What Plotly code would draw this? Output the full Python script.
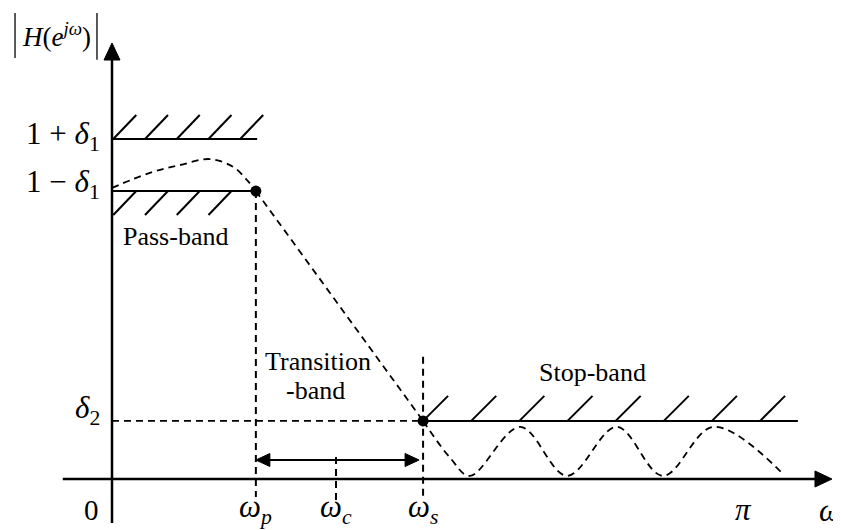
import plotly.graph_objects as go

# ---------------- data (omega normalised by pi, magnitude) ----------------
omega_p = 0.228
omega_c = 0.355
omega_s = 0.493
omega_pi = 1.0
delta1 = 0.083
delta2 = 0.185

pass_omega = [0.0, 0.060, 0.108, 0.155, 0.192, 0.214, 0.228]
pass_mag = [0.927, 0.975, 1.000, 1.019, 0.994, 0.952, 0.917]

trans_omega = [omega_p, omega_s]
trans_mag = [1 - delta1, delta2]

stop_omega = [0.493, 0.536, 0.567, 0.647, 0.721, 0.800, 0.873, 0.953, 1.062]
stop_mag = [0.185, 0.067, 0.010, 0.166, 0.010, 0.166, 0.010, 0.166, 0.019]

stop_spec_end = 1.087

tick_positions = [omega_p, omega_c, omega_s, omega_pi]
tick_labels = ["<i>ω</i><sub><i>p</i></sub>", "<i>ω</i><sub><i>c</i></sub>",
               "<i>ω</i><sub><i>s</i></sub>", "<i>π</i>"]
level_labels = ["1 + <i>δ</i><sub>1</sub>", "1 − <i>δ</i><sub>1</sub>", "<i>δ</i><sub>2</sub>"]

band_labels = ["Pass-band", "Transition", "-band", "Stop-band"]

# ---------------- layout constants ----------------
# page body has an 8px margin, so the figure is 8px smaller than the window
X_RANGE = [-0.16482, 1.15531]
Y_RANGE = [-0.16242, 1.5]
PX = 1 / 631.0   # one pixel along x in data units
PY = 1 / 314.0   # one pixel along y in data units
FONT = "Liberation Serif"
BLACK = "#000000"

fig = go.Figure()


def seg_trace(xs, ys, width=2.0, dash=None, fill=None):
    fig.add_trace(go.Scatter(x=xs, y=ys, mode="lines", fill=fill, fillcolor=BLACK,
                             line=dict(color=BLACK, width=width, dash=dash),
                             hoverinfo="skip", showlegend=False))


def arrow_head(tip_x, tip_y, direction, length, half):
    # filled triangle; direction: 'right', 'left', 'up'
    if direction == "right":
        xs = [tip_x, tip_x - length * PX, tip_x - length * PX, tip_x]
        ys = [tip_y, tip_y + half * PY, tip_y - half * PY, tip_y]
    elif direction == "left":
        xs = [tip_x, tip_x + length * PX, tip_x + length * PX, tip_x]
        ys = [tip_y, tip_y + half * PY, tip_y - half * PY, tip_y]
    else:
        xs = [tip_x, tip_x - half * PX, tip_x + half * PX, tip_x]
        ys = [tip_y, tip_y - length * PY, tip_y - length * PY, tip_y]
    seg_trace(xs, ys, width=1, fill="toself")


# axes
x_axis_start, x_axis_tip = -0.078, 1.141
y_axis_start, y_axis_tip = -0.140, 1.3885
seg_trace([x_axis_start, x_axis_tip - 10 * PX], [0, 0], width=2.5)
arrow_head(x_axis_tip, 0, "right", 17, 8)
seg_trace([0, 0], [y_axis_start, y_axis_tip - 10 * PY], width=2.5)
arrow_head(0, y_axis_tip, "up", 17, 8)

# spec lines
seg_trace([0, omega_p + 0.002], [1 + delta1, 1 + delta1])
seg_trace([0, omega_p], [1 - delta1, 1 - delta1])
seg_trace([omega_s, stop_spec_end], [delta2, delta2])

# hatching
hx, hy = [], []
for i in range(5):
    x0 = 0.002 + i * 0.0503
    hx += [x0, x0 + 23 * PX, None]
    hy += [1 + delta1, 1 + delta1 + 24 * PY, None]
for i in range(4):
    x0 = 0.002 + i * 0.0503
    hx += [x0, x0 + 23 * PX, None]
    hy += [1 - delta1 - 24 * PY, 1 - delta1, None]
for i in range(8):
    x0 = omega_s + i * 0.0763
    hx += [x0, x0 + 25 * PX, None]
    hy += [delta2, delta2 + 25 * PY, None]
seg_trace(hx, hy, width=2)

# dashed guide lines
DASH = "7px,5px"
seg_trace([0, omega_s], [delta2, delta2], width=1.6, dash=DASH)
seg_trace([omega_p, omega_p], [1 - delta1, -0.057], width=2, dash=DASH)
seg_trace([omega_s, omega_s], [0.389, -0.067], width=2, dash=DASH)
seg_trace([omega_c, omega_c], [0.070, -0.067], width=2, dash=DASH)

# response curve
fig.add_trace(go.Scatter(x=pass_omega, y=pass_mag, mode="lines",
                         line=dict(color=BLACK, width=1.8, dash=DASH, shape="spline", smoothing=1.0),
                         hoverinfo="skip", showlegend=False))
fig.add_trace(go.Scatter(x=trans_omega, y=trans_mag, mode="lines",
                         line=dict(color=BLACK, width=1.8, dash=DASH),
                         hoverinfo="skip", showlegend=False))
fig.add_trace(go.Scatter(x=stop_omega, y=stop_mag, mode="lines",
                         line=dict(color=BLACK, width=1.8, dash=DASH, shape="spline", smoothing=1.0),
                         hoverinfo="skip", showlegend=False))

# transition-width double arrow
arrow_y = 0.0605
left_tip, right_tip = omega_p, omega_s - 4 * PX
seg_trace([left_tip + 8 * PX, right_tip - 8 * PX], [arrow_y, arrow_y], width=2.2)
arrow_head(left_tip, arrow_y, "left", 14, 6.5)
arrow_head(right_tip, arrow_y, "right", 14, 6.5)

# edge points
fig.add_trace(go.Scatter(x=[omega_p, omega_s], y=[1 - delta1, delta2], mode="markers",
                         marker=dict(color=BLACK, size=11), hoverinfo="skip", showlegend=False))

annotations = []
MATH = dict(family=FONT, size=31, color=BLACK)
for xv, lab in zip(tick_positions, tick_labels):
    annotations.append(dict(x=xv, y=-0.096, xref="x", yref="y", text=lab, showarrow=False,
                            font=MATH, xanchor="center", yanchor="middle"))
annotations.append(dict(x=-0.033, y=-0.099, xref="x", yref="y", text="0", showarrow=False,
                        font=dict(family=FONT, size=29, color=BLACK)))
annotations.append(dict(x=1.138, y=-0.099, xref="x", yref="y", text="<i>ω</i>", showarrow=False,
                        font=MATH))
level_y = [1.092, 0.939, 0.22]
for yv, lab in zip(level_y, level_labels):
    annotations.append(dict(x=-0.016, y=yv, xref="x", yref="y", text=lab, showarrow=False,
                            font=MATH, xanchor="right", yanchor="middle"))

annotations.append(dict(x=-0.0887, y=1.414, xref="x", yref="y",
                        text="<i>H</i>(<i>e</i><sup><i>jω</i></sup>)", showarrow=False,
                        font=dict(family=FONT, size=27, color=BLACK)))

BAND = dict(family=FONT, size=26, color=BLACK)
band_pos = [(0.101, 0.772), (0.3265, 0.3758), (0.323, 0.2803), (0.761, 0.34)]
for (xv, yv), lab in zip(band_pos, band_labels):
    annotations.append(dict(x=xv, y=yv, xref="x", yref="y", text=lab, showarrow=False,
                            font=BAND, align="center"))

shapes = [
    dict(type="line", xref="x", yref="y", x0=-0.1537, x1=-0.1537, y0=1.341, y1=1.484,
         line=dict(color=BLACK, width=1.3)),
    dict(type="line", xref="x", yref="y", x0=-0.0238, x1=-0.0238, y0=1.335, y1=1.484,
         line=dict(color=BLACK, width=1.3)),
]

fig.update_layout(
    width=833, height=522,
    margin=dict(l=0, r=0, t=0, b=0, pad=0),
    paper_bgcolor="white", plot_bgcolor="white",
    xaxis=dict(range=X_RANGE, visible=False, fixedrange=True),
    yaxis=dict(range=Y_RANGE, visible=False, fixedrange=True),
    annotations=annotations, shapes=shapes,
    showlegend=False,
)

fig.write_html("out.html")
